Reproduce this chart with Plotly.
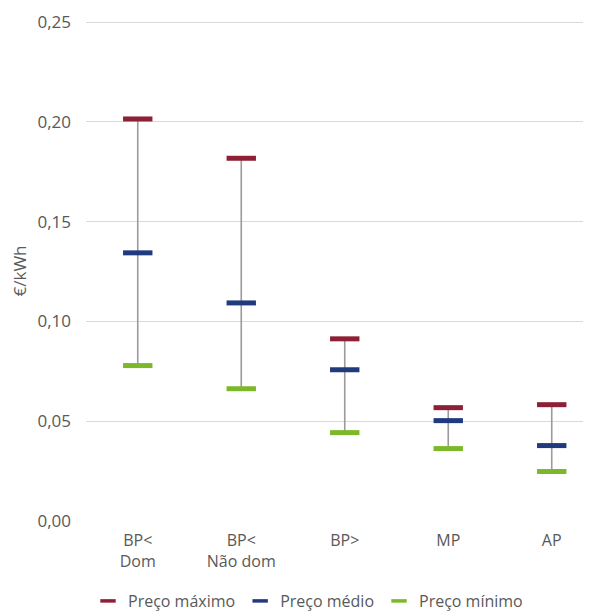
import plotly.graph_objects as go

categories = ["BP<<br>Dom", "BP<<br>Não dom", "BP>", "MP", "AP"]
preco_max = [0.2015, 0.1818, 0.0913, 0.0568, 0.0583]
preco_med = [0.1344, 0.1093, 0.0758, 0.0503, 0.0378]
preco_min = [0.0779, 0.0663, 0.0443, 0.0363, 0.0248]
y_ticks = [0.0, 0.05, 0.10, 0.15, 0.20, 0.25]

font_family = "Open Sans, Liberation Sans, sans-serif"
grey_text = "#595959"

# vertical range lines
lx, ly = [], []
for c, lo, hi in zip(categories, preco_min, preco_max):
    lx += [c, c, None]
    ly += [lo, hi, None]

fig = go.Figure()
fig.add_trace(go.Scatter(x=lx, y=ly, mode="lines",
                         line=dict(color="#9B9B9B", width=1.6),
                         showlegend=False, hoverinfo="skip"))

series = [("Preço máximo", preco_max, "#8E2035"),
          ("Preço médio", preco_med, "#1F3B7E"),
          ("Preço mínimo", preco_min, "#7DB82A")]
for name, vals, col in series:
    fig.add_trace(go.Scatter(x=categories, y=vals, mode="markers", name=name,
                             showlegend=False,
                             marker=dict(symbol="line-ew", size=21,
                                         line=dict(color=col, width=5))))
for name, vals, col in series:
    fig.add_trace(go.Scatter(x=[None], y=[None], mode="markers", name=name,
                             marker=dict(symbol="line-ew", size=11,
                                         line=dict(color=col, width=3.5))))

# page has an 8px body margin, so the figure is sized to the visible area
W, H = 583, 604
fig.update_layout(
    width=W, height=H,
    margin=dict(l=78, r=2, t=13, b=91, autoexpand=False),
    paper_bgcolor="white", plot_bgcolor="white",
    separators=",.",
    font=dict(family=font_family, size=16, color=grey_text),
    showlegend=True,
    legend=dict(orientation="h", xref="container", x=300 / W, xanchor="center",
                yref="container", y=(H - 593) / H, yanchor="middle",
                font=dict(size=16, color=grey_text), itemwidth=30,
                tracegroupgap=0),
    xaxis=dict(type="category", range=[-0.5, 4.36], showgrid=False,
               showline=False, zeroline=False, ticks="", automargin=False,
               ticklabelstandoff=8,
               tickfont=dict(size=16, color=grey_text)),
    yaxis=dict(range=[0, 0.2506], tickvals=y_ticks, tickformat=".2f",
               showgrid=True, gridcolor="#D9D9D9", gridwidth=1,
               zeroline=False, showline=False, ticks="", ticklabelstandoff=14,
               automargin=False,
               tickfont=dict(size=17, color=grey_text),
               title=dict(text="€/kWh", font=dict(size=17, color=grey_text), standoff=12)),
)

fig.write_html("out.html")
